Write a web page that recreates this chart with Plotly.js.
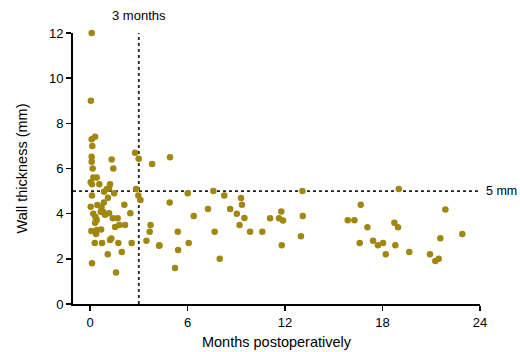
<!DOCTYPE html>
<html>
<head>
<meta charset="utf-8">
<script src="https://cdn.plot.ly/plotly-3.0.1.min.js"></script>
<style>html,body{margin:0;padding:0;background:#fff;}#chart{width:520px;height:352px;}</style>
</head>
<body>
<div id="chart"></div>
<script>
// Months postoperatively
const months = [
  0.1, 0.05, 0.31, 0.1, 0.14, 0.1, 0.1, 1.33, 2.77, 2.99, 3.82, 4.92, 0.16, 1.43,
  0.2, 0.41, 0.04, 0.12, 0.57, 1.23, 1.17, 1.03, 0.86, 2.83, 1.48, 2.97, 0.12, 1.1,
  3.1, 0.85, 2.11, 0.04, 0.45, 0.7, 0.66, 0.8, 0.2, 1.17, 2.48, 0.92, 0.33, 0.41,
  1.4, 1.7, 0.31, 2.15, 1.8, 1.54, 3.72, 0.08, 0.41, 0.68, 0.37, 3.67, 3.47, 4.25,
  0.29, 0.74, 1.23, 1.31, 1.74, 2.56, 1.09, 1.95, 0.12, 1.6,
  6.01, 7.59, 8.26, 4.9, 9.29, 9.35, 7.26, 8.62, 9.03, 9.5, 6.38, 9.2, 5.4, 7.67,
  9.85, 10.6, 4.27, 6.07, 5.42, 7.98, 5.23, 11.77, 11.63, 11.88, 11.08, 13.07, 13.09,
  12.98, 11.8, 19.0, 16.66, 21.87, 15.86, 16.27, 18.73, 18.95, 17.07, 22.91, 16.6,
  17.42, 17.72, 18.03, 21.56, 18.79, 18.2, 19.65, 20.92, 21.25, 21.46
];
// Wall thickness (mm)
const thickness = [
  12.0, 9.0, 7.41, 7.3, 7.0, 6.52, 6.3, 6.4, 6.7, 6.43, 6.2, 6.5, 6.0, 6.0,
  5.6, 5.6, 5.39, 5.3, 5.3, 5.3, 5.12, 5.09, 4.97, 5.09, 4.9, 4.8, 4.8, 4.7,
  4.6, 4.5, 4.4, 4.31, 4.38, 4.28, 4.09, 4.09, 4.0, 4.02, 4.02, 3.95, 3.85, 3.72,
  3.8, 3.8, 3.6, 3.5, 3.5, 3.41, 3.5, 3.23, 3.28, 3.3, 3.1, 3.2, 2.8, 2.58,
  2.7, 2.7, 2.83, 2.9, 2.7, 2.7, 2.2, 2.3, 1.8, 1.4,
  4.9, 5.0, 4.8, 4.5, 4.69, 4.4, 4.21, 4.21, 4.0, 3.81, 3.9, 3.5, 3.2, 3.2,
  3.2, 3.2, 2.6, 2.7, 2.39, 2.0, 1.59, 4.1, 3.8, 3.7, 3.8, 5.0, 3.9,
  3.0, 2.6, 5.09, 4.4, 4.19, 3.71, 3.71, 3.6, 3.4, 3.4, 3.1, 2.7,
  2.8, 2.6, 2.7, 2.91, 2.6, 2.2, 2.3, 2.2, 1.9, 2.0
];
const xTicks = [0, 6, 12, 18, 24];
const yTicks = [0, 2, 4, 6, 8, 10, 12];
const cutoffMonths = 3;
const cutoffMm = 5;

const font = {family: 'Liberation Sans, Arial, sans-serif', color: '#000'};

Plotly.newPlot('chart', [{
  type: 'scatter', mode: 'markers', x: months, y: thickness,
  marker: {color: '#a0870f', size: 6.5, line: {width: 0}},
  cliponaxis: false, hoverinfo: 'skip'
}], {
  width: 520, height: 352,
  margin: {l: 73, r: 40, t: 33, b: 48},
  paper_bgcolor: '#fff', plot_bgcolor: '#fff',
  showlegend: false,
  font: Object.assign({size: 13}, font),
  xaxis: {
    range: [-1.05, 24], tickvals: xTicks, ticktext: xTicks.map(String),
    showgrid: false, zeroline: false, showline: true, linecolor: '#000', linewidth: 2,
    ticks: 'outside', ticklen: 5, tickwidth: 1.5, tickcolor: '#000',
    tickfont: Object.assign({size: 13}, font),
    title: {text: 'Months postoperatively', font: Object.assign({size: 14.5}, font), standoff: 8}
  },
  yaxis: {
    range: [0, 12], tickvals: yTicks, ticktext: yTicks.map(String),
    showgrid: false, zeroline: false, showline: true, linecolor: '#000', linewidth: 2,
    ticks: 'outside', ticklen: 5, tickwidth: 1.5, tickcolor: '#000',
    tickfont: Object.assign({size: 13}, font),
    title: {text: 'Wall thickness (mm)', font: Object.assign({size: 14.5}, font), standoff: 18}
  },
  shapes: [
    {type: 'line', xref: 'x', yref: 'y', x0: cutoffMonths, x1: cutoffMonths, y0: 0, y1: 12,
     line: {color: '#222', width: 1.8, dash: 'dot'}, layer: 'below'},
    {type: 'line', xref: 'x', yref: 'y', x0: -1.05, x1: 24, y0: cutoffMm, y1: cutoffMm,
     line: {color: '#222', width: 1.8, dash: 'dot'}, layer: 'below'}
  ],
  annotations: [
    {text: '3 months', xref: 'x', yref: 'paper', x: cutoffMonths, y: 1, yanchor: 'bottom',
     xanchor: 'center', yshift: 8, showarrow: false, font: Object.assign({size: 13}, font)},
    {text: '5 mm', xref: 'x', yref: 'y', x: 24, y: cutoffMm, xanchor: 'left', xshift: 4,
     showarrow: false, font: Object.assign({size: 12.5}, font)}
  ]
}, {displayModeBar: false, staticPlot: true});
</script>
</body>
</html>
